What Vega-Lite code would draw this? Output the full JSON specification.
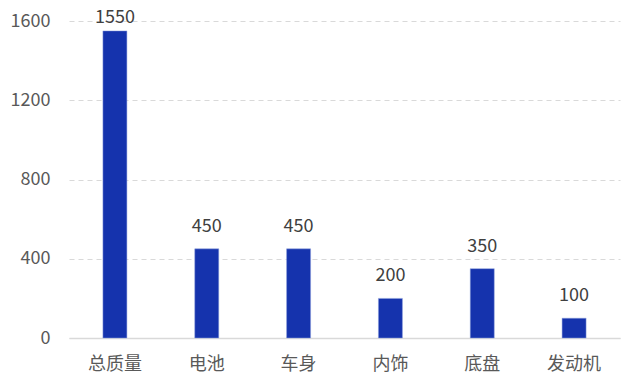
{
  "$schema": "https://vega.github.io/schema/vega-lite/v6.json",
  "width": 551,
  "height": 317,
  "autosize": {"type": "none"},
  "padding": {"left": 69, "top": 21, "right": 20, "bottom": 53},
  "background": "white",
  "config": {
    "view": {"stroke": null},
    "font": "Noto Sans CJK SC"
  },
  "data": {
    "values": [
      {"category": "总质量", "value": 1550},
      {"category": "电池", "value": 450},
      {"category": "车身", "value": 450},
      {"category": "内饰", "value": 200},
      {"category": "底盘", "value": 350},
      {"category": "发动机", "value": 100}
    ]
  },
  "encoding": {
    "x": {
      "field": "category",
      "type": "nominal",
      "sort": null,
      "scale": {"paddingInner": 0, "paddingOuter": 0},
      "axis": {
        "title": null,
        "labelAngle": 0,
        "ticks": false,
        "domain": true,
        "domainColor": "#d9d9d9",
        "domainWidth": 1.5,
        "labelFont": "Noto Sans CJK SC",
        "labelFontSize": 18,
        "labelColor": "#595959",
        "labelPadding": 17
      }
    },
    "y": {
      "field": "value",
      "type": "quantitative",
      "scale": {"domain": [0, 1600]},
      "axis": {
        "title": null,
        "values": [0, 400, 800, 1200, 1600],
        "format": "d",
        "domain": false,
        "ticks": false,
        "grid": true,
        "gridColor": "#d9d9d9",
        "gridDash": [5, 4],
        "gridWidth": 1,
        "labelFont": "Noto Sans CJK SC",
        "labelFontSize": 18,
        "labelColor": "#595959",
        "labelPadding": 19
      }
    }
  },
  "layer": [
    {
      "mark": {"type": "bar", "size": 24, "color": "#1533AD", "stroke": "#8fa0dd", "strokeWidth": 0.5}
    },
    {
      "transform": [{"filter": "datum.value < 1500"}],
      "mark": {"type": "text", "dy": -22, "fontSize": 18, "color": "#404040", "font": "Noto Sans CJK SC"},
      "encoding": {"text": {"field": "value", "type": "quantitative", "format": "d"}}
    },
    {
      "transform": [{"filter": "datum.value >= 1500"}],
      "mark": {"type": "text", "dy": -13, "fontSize": 18, "color": "#404040", "font": "Noto Sans CJK SC"},
      "encoding": {"text": {"field": "value", "type": "quantitative", "format": "d"}}
    }
  ]
}
